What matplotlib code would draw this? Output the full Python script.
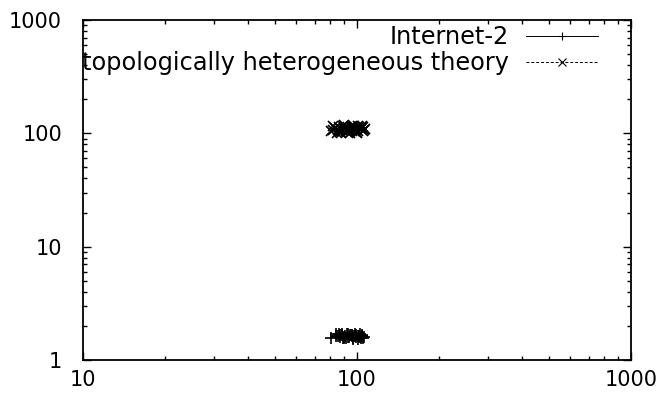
import matplotlib
matplotlib.use("Agg")
import matplotlib.pyplot as plt
from matplotlib.ticker import LogLocator, NullFormatter, FixedLocator

# Data
internet2_x = [80.5, 84.0, 86.5, 83.5, 88.0, 90.5, 87.0, 92.0, 89.5, 94.0,
               91.0, 95.5, 93.0, 97.0, 96.0, 99.0, 98.0, 100.5, 102.0, 99.5,
               103.5, 101.0, 105.0, 104.0, 106.0, 92.5, 88.5, 96.5, 85.5, 102.5,
               89.0, 93.5, 97.5, 101.5, 104.5, 86.0, 90.0, 95.0, 98.5, 103.0]
internet2_y = [1.55, 1.68, 1.66, 1.62, 1.70, 1.64, 1.58, 1.69, 1.61, 1.66,
               1.55, 1.63, 1.70, 1.57, 1.65, 1.60, 1.68, 1.54, 1.62, 1.66,
               1.58, 1.64, 1.56, 1.67, 1.60, 1.59, 1.65, 1.53, 1.63, 1.69,
               1.57, 1.61, 1.64, 1.59, 1.63, 1.68, 1.55, 1.67, 1.62, 1.56]

theory_x = [80.5, 83.0, 85.5, 82.0, 87.5, 90.0, 86.0, 91.5, 89.0, 93.5,
            92.0, 95.0, 94.0, 97.5, 96.0, 99.0, 98.5, 101.0, 100.0, 103.0,
            102.0, 105.0, 104.0, 106.5, 88.0, 84.5, 95.5, 91.0, 99.5, 107.0,
            81.5, 86.5, 90.5, 94.5, 97.0, 100.5, 103.5, 105.5, 92.5, 89.5]
theory_y = [104, 112, 108, 115, 101, 110, 114, 105, 117, 109,
            102, 113, 107, 116, 104, 111, 106, 115, 101, 109,
            113, 104, 117, 108, 106, 101, 116, 112, 103, 110,
            107, 103, 114, 100, 109, 105, 111, 113, 106, 118]

series_labels = ["Internet-2", "topologically heterogeneous theory"]
x_limits = (10, 1000)
y_limits = (1, 1000)
x_major_ticks = [10, 100, 1000]
x_tick_labels = ["10", "100", "1000"]
y_major_ticks = [1, 10, 100, 1000]
y_tick_labels = ["1", "10", "100", "1000"]

plt.rcParams['font.family'] = ['DejaVu Sans']

fig = plt.figure(figsize=(6.65, 3.94), dpi=100)
ax = fig.add_axes([83/665, 1 - 360/394, 548/665, 340/394])

ax.plot(internet2_x, internet2_y, color='black', linestyle='-', linewidth=0.7,
        marker='+', markersize=8, markeredgewidth=1.2, label=series_labels[0])
ax.plot(theory_x, theory_y, color='black', linestyle=(0, (3, 2)), linewidth=0.7,
        marker='x', markersize=7, markeredgewidth=1.2, label=series_labels[1])

ax.set_xscale('log')
ax.set_yscale('log')
ax.set_xlim(*x_limits)
ax.set_ylim(*y_limits)

ax.xaxis.set_major_locator(FixedLocator(x_major_ticks))
ax.set_xticklabels(x_tick_labels)
ax.yaxis.set_major_locator(FixedLocator(y_major_ticks))
ax.set_yticklabels(y_tick_labels)
for a in (ax.xaxis, ax.yaxis):
    a.set_minor_locator(LogLocator(base=10, subs=range(2, 10)))
    a.set_minor_formatter(NullFormatter())

ax.tick_params(which='both', direction='in', top=True, right=True,
               width=1.0, labelsize=15, colors='black')
ax.tick_params(which='major', length=6)
ax.tick_params(which='minor', length=3)
ax.tick_params(axis='y', which='major', pad=15)
ax.tick_params(axis='x', which='major', pad=7)

for s in ax.spines.values():
    s.set_linewidth(1.3)
    s.set_color('black')

leg = ax.legend(loc='upper right', bbox_to_anchor=((598 - 83) / 548, 1 - 5 / 340),
                frameon=False, markerfirst=False, numpoints=1, fontsize=17.3,
                handlelength=3.0, handletextpad=0.7, labelspacing=0.08,
                borderpad=0, borderaxespad=0)
for line in leg.get_lines():
    line.set_markersize(6)
    line.set_markeredgewidth(0.8)
    line.set_linewidth(0.7)

fig.savefig("out.png", dpi=100)
